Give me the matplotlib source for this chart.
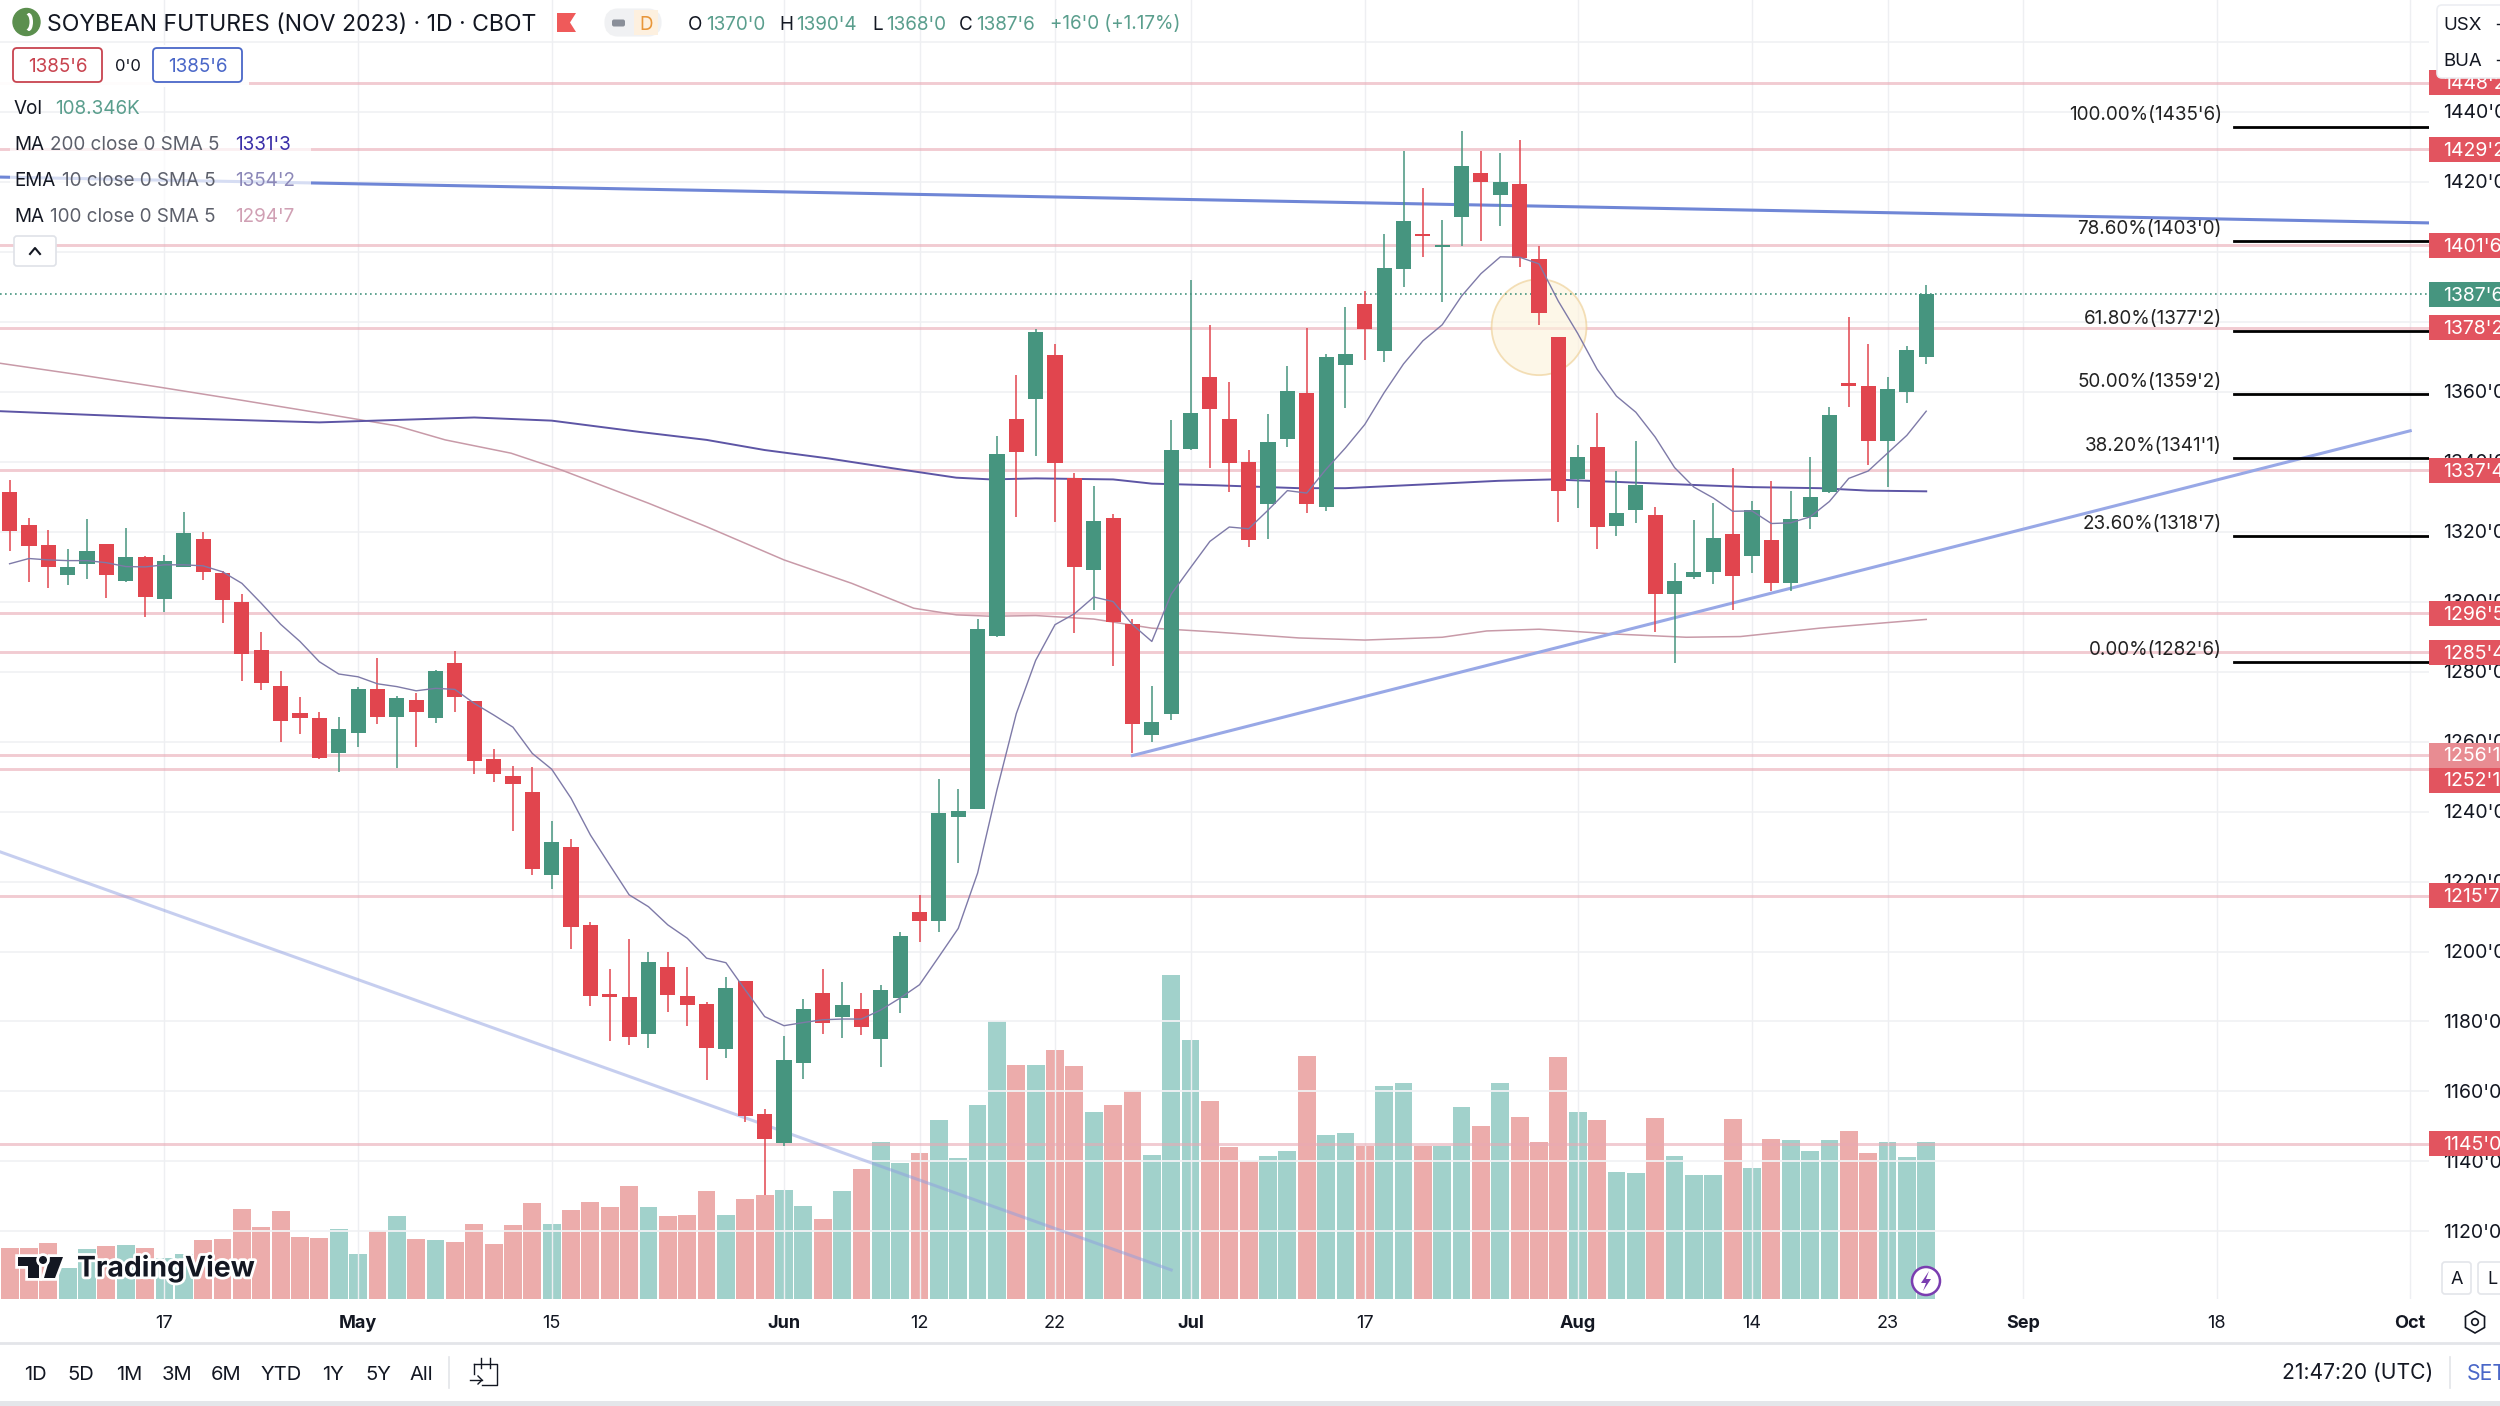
import matplotlib
matplotlib.use('Agg')
import matplotlib.pyplot as plt
import matplotlib.patheffects as pe
from matplotlib.patches import Rectangle, Ellipse, Circle, Polygon, FancyBboxPatch, RegularPolygon

plt.rcParams['font.family'] = ['Inter', 'DejaVu Sans']

# Значения: открытие, максимум, минимум, закрытие
opens = [1331.3, 1321.9, 1316.1, 1307.7, 1310.6, 1316.5, 1306.0, 1312.6, 1300.8, 1310.0,
         1318.0, 1308.3, 1300.0, 1286.1, 1276.0, 1268.1, 1266.8, 1256.8, 1262.5, 1274.9,
         1266.9, 1271.9, 1266.6, 1282.5, 1271.5, 1254.9, 1250.1, 1245.6, 1222.0, 1229.9,
         1207.5, 1187.8, 1187.1, 1176.4, 1195.7, 1187.3, 1185.0, 1172.1, 1191.6, 1153.5,
         1145.4, 1168.0, 1188.2, 1181.4, 1183.5, 1175.1, 1186.7, 1211.3, 1208.6, 1238.3,
         1240.8, 1290.3, 1352.3, 1358.0, 1370.5, 1335.4, 1308.9, 1324.0, 1293.6, 1262.0,
         1267.9, 1343.6, 1364.1, 1352.3, 1340.0, 1327.9, 1346.5, 1359.5, 1327.0, 1367.6,
         1385.0, 1371.5, 1395.1, 1405.0, 1401.3, 1410.0, 1422.4, 1416.2, 1419.3, 1397.9,
         1375.6, 1335.0, 1344.1, 1321.5, 1326.1, 1324.6, 1302.1, 1306.9, 1308.4, 1319.2,
         1313.0, 1317.6, 1305.3, 1324.1, 1331.3, 1362.4, 1361.7, 1346.0, 1359.9, 1370.0]
closes = [1320.1, 1316.0, 1309.8, 1309.9, 1314.4, 1307.7, 1312.6, 1301.4, 1311.5, 1319.5,
          1308.5, 1300.5, 1285.1, 1276.8, 1265.9, 1266.8, 1255.3, 1263.6, 1274.9, 1267.1,
          1272.4, 1268.4, 1280.1, 1272.6, 1254.5, 1250.6, 1247.9, 1223.7, 1231.2, 1207.0,
          1187.4, 1187.0, 1175.5, 1197.0, 1187.7, 1184.8, 1172.3, 1189.5, 1153.0, 1146.5,
          1169.1, 1183.7, 1179.7, 1184.7, 1178.4, 1189.0, 1204.3, 1208.8, 1239.5, 1240.1,
          1292.3, 1342.3, 1342.7, 1377.1, 1339.6, 1309.9, 1323.1, 1294.1, 1265.0, 1265.7,
          1343.2, 1353.8, 1355.0, 1339.6, 1317.7, 1345.7, 1360.1, 1327.8, 1369.8, 1370.8,
          1377.9, 1395.3, 1408.8, 1404.6, 1401.8, 1424.5, 1419.8, 1419.9, 1398.2, 1382.4,
          1331.6, 1341.3, 1321.2, 1325.2, 1333.2, 1302.1, 1306.0, 1308.5, 1318.2, 1307.4,
          1326.1, 1305.3, 1323.5, 1329.9, 1353.4, 1361.6, 1346.0, 1360.7, 1371.8, 1387.75]
highs = [1334.6, 1323.8, 1320.5, 1315.0, 1323.6, 1316.5, 1320.9, 1313.0, 1313.3, 1325.6,
         1319.8, 1308.8, 1302.1, 1291.4, 1280.2, 1272.7, 1268.4, 1266.9, 1275.7, 1284.0,
         1272.9, 1273.8, 1280.3, 1285.9, 1271.5, 1258.0, 1253.0, 1252.8, 1237.3, 1232.1,
         1208.5, 1194.9, 1203.6, 1199.9, 1199.9, 1195.6, 1185.7, 1192.6, 1191.6, 1154.9,
         1175.9, 1186.5, 1195.0, 1191.2, 1188.2, 1190.4, 1205.7, 1216.2, 1249.2, 1246.4,
         1295.0, 1347.3, 1364.7, 1378.0, 1373.5, 1336.6, 1333.0, 1324.9, 1295.0, 1275.9,
         1351.9, 1391.8, 1378.9, 1362.8, 1343.2, 1353.6, 1367.3, 1378.1, 1370.6, 1384.2,
         1388.7, 1404.9, 1428.7, 1418.3, 1408.9, 1434.4, 1428.8, 1428.1, 1432.0, 1401.6,
         1375.6, 1344.6, 1354.0, 1337.3, 1345.8, 1327.1, 1311.1, 1323.3, 1328.1, 1338.1,
         1328.6, 1334.5, 1331.5, 1341.2, 1355.5, 1381.2, 1373.5, 1364.3, 1373.0, 1390.5]
lows = [1314.5, 1305.7, 1304.0, 1304.8, 1306.4, 1300.9, 1305.7, 1295.7, 1297.0, 1309.8,
        1306.2, 1294.0, 1277.4, 1274.7, 1260.0, 1262.2, 1254.9, 1251.4, 1258.5, 1265.1,
        1252.4, 1258.4, 1265.4, 1268.3, 1250.6, 1248.5, 1234.5, 1221.9, 1217.8, 1200.6,
        1184.3, 1174.3, 1173.2, 1172.3, 1182.7, 1178.6, 1163.3, 1169.7, 1151.2, 1130.5,
        1144.4, 1163.7, 1176.3, 1175.4, 1176.0, 1167.1, 1182.3, 1202.6, 1205.7, 1225.4,
        1240.8, 1289.8, 1324.3, 1341.5, 1322.8, 1290.9, 1297.5, 1281.7, 1256.8, 1260.0,
        1266.2, 1343.4, 1338.3, 1331.2, 1315.7, 1317.9, 1344.2, 1325.2, 1325.8, 1355.2,
        1369.0, 1368.4, 1390.0, 1398.5, 1385.5, 1401.6, 1402.9, 1407.4, 1395.7, 1379.1,
        1322.8, 1326.6, 1315.1, 1318.7, 1322.5, 1291.2, 1282.4, 1306.4, 1305.1, 1297.5,
        1308.2, 1302.9, 1303.1, 1320.7, 1331.1, 1355.6, 1339.1, 1332.7, 1356.7, 1368.0]

# Объём в тысячах
volumes = [35.5, 35.0, 39.0, 21.2, 34.3, 36.6, 37.3, 35.3, 28.1, 30.9,
           40.6, 41.3, 62.2, 49.6, 60.9, 42.9, 42.2, 48.4, 31.1, 47.0,
           57.4, 41.7, 40.6, 39.6, 52.1, 38.0, 50.9, 66.2, 51.6, 61.5,
           67.1, 63.8, 78.1, 63.4, 57.2, 58.3, 74.7, 58.1, 69.2, 71.9,
           75.4, 64.5, 55.1, 74.7, 89.9, 108.6, 94.0, 100.7, 124.0, 97.7,
           133.9, 192.5, 162.0, 162.0, 172.4, 161.4, 129.3, 133.9, 143.8, 99.6,
           224.3, 179.1, 136.7, 105.3, 95.4, 98.7, 102.3, 168.3, 113.6, 114.8,
           106.0, 147.5, 149.4, 106.0, 106.0, 132.8, 119.4, 149.1, 125.6, 108.3,
           167.1, 129.3, 124.0, 87.8, 86.9, 125.2, 99.1, 85.7, 85.7, 124.5,
           90.6, 110.6, 110.0, 102.3, 110.0, 116.4, 100.7, 108.3, 98.2, 108.3]

ema10 = [1310.8, 1312.3, 1311.9, 1311.7, 1311.7, 1311.1, 1310.0, 1309.9, 1310.5, 1310.5,
         1310.2, 1308.5, 1305.2, 1299.5, 1293.5, 1288.6, 1282.8, 1279.3, 1278.5, 1276.5,
         1275.7, 1274.5, 1275.2, 1274.9, 1270.9, 1267.6, 1264.1, 1256.6, 1252.1, 1243.8,
         1233.3, 1224.7, 1216.2, 1212.8, 1207.6, 1203.8, 1198.1, 1196.8, 1189.0, 1181.4,
         1178.8, 1179.7, 1180.5, 1180.7, 1180.7, 1183.3, 1186.7, 1190.5, 1198.5, 1206.6,
         1222.4, 1246.2, 1268.0, 1283.2, 1293.4, 1296.5, 1301.3, 1300.0, 1293.4, 1288.6,
         1302.1, 1309.7, 1317.2, 1321.3, 1320.8, 1326.1, 1331.7, 1331.0, 1337.8, 1343.9,
         1350.6, 1359.7, 1367.9, 1374.5, 1379.1, 1387.3, 1393.7, 1398.5, 1398.4, 1396.5,
         1385.8, 1376.6, 1366.4, 1358.7, 1354.1, 1347.0, 1338.3, 1332.7, 1329.6, 1325.8,
         1325.9, 1322.3, 1322.5, 1324.2, 1328.6, 1335.2, 1337.3, 1342.4, 1347.5, 1354.4]

ma200_idx = [-0.5, 8, 16, 24, 28, 32.5, 36, 39, 42.3, 45.6, 48.9, 50.7, 53, 57, 59, 62.4,
             66.6, 69, 72.8, 76.9, 79.7, 83, 86.6, 90, 93.5, 96, 99]
ma200 = [1354.4, 1352.5, 1351.2, 1352.6, 1351.7, 1348.5, 1346.2, 1343.3, 1340.9, 1338.1, 1335.4,
         1334.9, 1335.2, 1334.9, 1333.7, 1333.2, 1332.4, 1332.4, 1333.4, 1334.5, 1334.9,
         1334.2, 1333.4, 1332.7, 1332.4, 1331.7, 1331.5]

ma100_idx = [-0.5, 3.6, 7.7, 11.9, 16, 20, 22.5, 25.9, 28.5, 33, 36, 40, 43.5, 46.7, 48.9, 50.7,
             53, 56, 59, 62, 66.6, 70, 74, 76.3, 79, 83, 86.6, 89.4, 93.5, 99]
ma100 = [1368.1, 1364.8, 1361.3, 1357.6, 1353.9, 1350.2, 1346.2, 1342.4, 1337.6, 1328.1, 1321.4,
         1311.9, 1305.2, 1298.1, 1296.2, 1295.8, 1296.0, 1295.0, 1292.4, 1291.4, 1289.6, 1289.0,
         1289.8, 1291.6, 1292.1, 1290.7, 1289.8, 1290.0, 1292.4, 1294.9]

# Горизонтальные уровни и их подписи
levels = [1448.25, 1429.25, 1401.75, 1378.25, 1337.5, 1296.625, 1285.5, 1256.125, 1252.125, 1215.875, 1145.0]
level_labels = ["1448'2", "1429'2", "1401'6", "1378'2", "1337'4", "1296'5", "1285'4", "1256'1", "1252'1", "1215'7", "1145'0"]

# Фибоначчи
fib_values = [1435.75, 1403.0, 1377.25, 1359.25, 1341.125, 1318.875, 1282.75]
fib_labels = ["100.00%(1435'6)", "78.60%(1403'0)", "61.80%(1377'2)", "50.00%(1359'2)",
              "38.20%(1341'1)", "23.60%(1318'7)", "0.00%(1282'6)"]

# Шкала цены и дат
price_ticks = [1120, 1140, 1160, 1180, 1200, 1220, 1240, 1260, 1280, 1300, 1320, 1340, 1360, 1380, 1400, 1420, 1440, 1460]
# 1380 и 1400 целиком закрыты плашками, поэтому подписей у них нет
price_labels = [1120, 1140, 1160, 1180, 1200, 1220, 1240, 1260, 1280, 1300, 1320, 1340, 1360, 1420, 1440]
date_idx = [8, 18, 28, 40, 47, 54, 61, 70, 81, 90, 97, 104, 114, 124]
date_labels = ['17', 'May', '15', 'Jun', '12', '22', 'Jul', '17', 'Aug', '14', '23', 'Sep', '18', 'Oct']
date_bold = ['May', 'Jun', 'Jul', 'Aug', 'Sep', 'Oct']

last_price = 1387.75

RED = '#e1454e'
GREEN = '#46957f'
TAG_RED = '#e2545f'
TEXT = '#131722'
GRAY = '#5d606b'
LEVEL = '#e9a9b4'
W, H = 2500, 1406
CHART_W, CHART_H = 2429, 1299

fig = plt.figure(figsize=(25, 14.06), dpi=100, facecolor='white')
pos = [0, (H - CHART_H) / H, CHART_W / W, CHART_H / H]
xlim = (-0.496, 124.97)
ylim = (1100.7, 1471.9)

# Объём и сетка лежат снизу
ax_vol = fig.add_axes(pos, zorder=1)
ax_vol.set_xlim(xlim)
ax_vol.set_ylim(0, 898.3)
ax_vol.axis('off')

ax = fig.add_axes(pos, zorder=2)
ax.patch.set_alpha(0)
ax.set_xlim(xlim)
ax.set_ylim(ylim)
ax.axis('off')

# Сетка
for p in price_ticks:
    ax.axhline(p, color='#f1f2f4', lw=1.3, zorder=0)
for i in date_idx:
    ax.axvline(i, color='#eeeff2', lw=1.0, zorder=0)

x = list(range(len(opens)))
up = [c >= o for o, c in zip(opens, closes)]

ax_vol.bar(x, volumes, width=0.92, color=['#a1d1cb' if u else '#ecacab' for u in up], zorder=2)

# Уровни
for lv in levels:
    ax.axhline(lv, color=LEVEL, lw=2.1, alpha=0.6, zorder=1)

# Средние
ax.plot(ma100_idx, ma100, color='#c89aa8', lw=1.1, zorder=2)
ax.plot(ma200_idx, ma200, color='#5d55a5', lw=1.4, zorder=2)

# Трендовые линии
ax.plot([-0.5, 125], [1421.3, 1408.2], color='#6f86d6', lw=2.2, zorder=2)
ax.plot([58, 124], [1256.0, 1348.8], color='#98a8e6', lw=2.2, zorder=2)
ax.plot([-0.5, 60], [1228.5, 1109.0], color='#8f9fe0', lw=2.2, alpha=0.5, zorder=2)

# Выделение в районе пробоя
ax.add_patch(Ellipse((79, 1378.4), 4.9, 27.4, facecolor='#fdf3dd', edgecolor='#eecf94',
                     lw=1.3, alpha=0.65, zorder=2))

# Свечи
ax.vlines(x, lows, highs, colors=[GREEN if u else RED for u in up], lw=1.1, zorder=3)
ax.bar(x, [abs(c - o) for o, c in zip(opens, closes)], bottom=[min(o, c) for o, c in zip(opens, closes)],
       width=0.78, color=[GREEN if u else RED for u in up], zorder=4)

ax.plot(x, ema10, color='#7e7aa8', lw=1.0, zorder=5)

# Последняя цена
ax.axhline(last_price, color=GREEN, lw=1.2, ls=(0, (1, 2)), zorder=2)

# Фибоначчи
for val, lab in zip(fib_values, fib_labels):
    ax.plot([114.9, 125], [val, val], color='black', lw=2.0, zorder=6)
    ax.annotate(lab, (114.27, val), xytext=(0, 12), textcoords='offset pixels',
                ha='right', va='center', fontsize=13.6, color='#222222', zorder=6)

# Шкала цены справа
ax_r = fig.add_axes([CHART_W / W, (H - CHART_H) / H, (W - CHART_W) / W, CHART_H / H], zorder=3)
ax_r.set_xlim(0, W - CHART_W)
ax_r.set_ylim(ylim)
ax_r.axis('off')
for p in price_labels:
    ax_r.text(14, p - 0.5, "%d'0" % p, ha='left', va='center', fontsize=14, color=TEXT, zorder=1)

tag_h = 25 / 3.5
for lv, lab in zip(levels, level_labels):
    # Подпись 1252'1 сдвинута вниз, чтобы не наезжать на соседнюю
    yc = 1249.0 if lab == "1252'1" else lv
    face = '#e88c92' if lab == "1256'1" else TAG_RED
    ax_r.add_patch(Rectangle((0, yc - tag_h / 2), 80, tag_h, color=face, lw=0, zorder=2))
    ax_r.text(14, yc - 0.4, lab, ha='left', va='center', fontsize=14, color='white', zorder=3)
ax_r.add_patch(Rectangle((0, last_price - tag_h / 2), 80, tag_h, color=GREEN, lw=0, zorder=2))
ax_r.text(14, last_price - 0.4, "1387'6", ha='left', va='center', fontsize=14, color='white', zorder=3)

# Всё остальное в пикселях картинки
ui = fig.add_axes([0, 0, 1, 1], zorder=4)
ui.patch.set_alpha(0)
ui.set_xlim(0, W)
ui.set_ylim(H, 0)
ui.axis('off')


def put(px, py, s, size=13.6, color=TEXT, ha='left', weight='normal'):
    return ui.text(px, py + 1.5, s, fontsize=size, color=color, ha=ha, va='center', fontweight=weight)


# Подложка под легендой
ui.add_patch(Rectangle((0, 45), 249, 42, color='white', lw=0, alpha=0.95))
ui.add_patch(Rectangle((10, 132), 301, 95, color='white', lw=0, alpha=0.72))

# Заголовок
ui.add_patch(Circle((26.5, 22), 13.5, color='#5b8f4e'))
ui.add_patch(Ellipse((29, 22), 8, 18, facecolor='white', edgecolor='none'))
ui.add_patch(Ellipse((26, 22), 7, 15, facecolor='#5b8f4e', edgecolor='none'))
put(47, 23, 'SOYBEAN FUTURES (NOV 2023) · 1D · CBOT', size=16.6)
ui.add_patch(Polygon([(557, 13), (576, 13), (570, 22.5), (576, 32), (557, 32)], color='#ef5a5a', lw=0))
ui.add_patch(FancyBboxPatch((610, 14), 46, 17, boxstyle='round,pad=0,rounding_size=8', mutation_aspect=1,
                            facecolor='#f0f1f3', edgecolor='#f0f1f3', lw=8))
ui.add_patch(Rectangle((634, 10), 24, 25, color='#fdf0df', lw=0))
ui.add_patch(FancyBboxPatch((612, 19.5), 13, 7, boxstyle='round,pad=0,rounding_size=2',
                            facecolor='#8a8f99', edgecolor='none'))
put(646, 23, 'D', color='#e8963a', ha='center')

teal = '#5a9e8d'
for px, s, col in [(688, 'O', TEXT), (706, "1370'0", teal), (779, 'H', TEXT), (796, "1390'4", teal),
                   (872, 'L', TEXT), (886, "1368'0", teal), (959, 'C', TEXT), (976, "1387'6", teal),
                   (1050, "+16'0 (+1.17%)", teal)]:
    put(px, 23, s, color=col)

# Кнопки торговли
ui.add_patch(FancyBboxPatch((13, 48), 89, 34, boxstyle='round,pad=0,rounding_size=4',
                            facecolor='white', edgecolor='#c8434f', lw=1.3))
put(57.5, 65, "1385'6", color='#c8434f', ha='center')
put(128, 65, "0'0", color=TEXT, ha='center', size=12)
ui.add_patch(FancyBboxPatch((153, 48), 89, 34, boxstyle='round,pad=0,rounding_size=4',
                            facecolor='white', edgecolor='#4a67c8', lw=1.3))
put(197.5, 65, "1385'6", color='#4a67c8', ha='center')

# Легенда индикаторов
put(14, 107, 'Vol')
put(55, 107, '108.346K', color=teal)
for py, head, rest, rx, val, col in [(144, 'MA', '200 close 0 SMA 5', 50, "1331'3", '#3a2fa8'),
                                     (179, 'EMA', '10 close 0 SMA 5', 62, "1354'2", '#8c88b8'),
                                     (215, 'MA', '100 close 0 SMA 5', 50, "1294'7", '#d0a0b4')]:
    put(14, py, head)
    put(rx, py, rest, color=GRAY)
    put(235, py, val, color=col)
ui.add_patch(FancyBboxPatch((14, 236), 42, 30, boxstyle='round,pad=0,rounding_size=3',
                            facecolor='white', edgecolor='#dfe2e8', lw=1.2))
ui.plot([30, 35, 40], [254, 248, 254], color=TEXT, lw=1.5)

# Блок USX / BUA
ui.add_patch(FancyBboxPatch((2437, 5), 90, 73, boxstyle='round,pad=0,rounding_size=5',
                            facecolor='white', edgecolor='#eceef2', lw=1.2))
put(2443, 24, 'USX', size=13.4)
put(2443, 60, 'BUA', size=13.4)
ui.plot([2497, 2500], [24, 24], color=TEXT, lw=1)
ui.plot([2497, 2500], [60, 60], color=TEXT, lw=1)

# Логотип TradingView
halo = [pe.withStroke(linewidth=4, foreground='white')]
logo_parts = [Polygon([(18, 1257), (39, 1257), (39, 1278), (28, 1278), (28, 1266), (18, 1266)], color=TEXT, lw=0),
              Polygon([(50, 1257), (63, 1257), (55, 1278), (44, 1278)], color=TEXT, lw=0),
              Circle((43, 1260), 4, color=TEXT, lw=0)]
for part in logo_parts:
    part.set_path_effects(halo)
    ui.add_patch(part)
tv = put(77, 1267, 'TradingView', size=20.4, weight='bold')
tv.set_path_effects(halo)

# Значок с молнией
ui.add_patch(Circle((1926, 1281), 14, facecolor='white', edgecolor='#7a3db0', lw=1.8))
ui.add_patch(Polygon([(1929, 1271), (1921, 1283), (1926, 1283), (1923, 1291), (1931, 1279), (1926, 1279)],
                     color='#7a3db0', lw=0))

# Подписи дат
for i, lab in zip(date_idx, date_labels):
    px = 9.6 + 19.36 * i
    put(px, 1322, lab, ha='center', size=13, weight='bold' if lab in date_bold else 'normal')

# Кнопки A и L, настройки
for bx, bw in [(2442, 29), (2478, 30)]:
    ui.add_patch(FancyBboxPatch((bx, 1262), bw, 32, boxstyle='round,pad=0,rounding_size=3',
                                facecolor='white', edgecolor='#e3e5ea', lw=1.2))
put(2456.5, 1278, 'A', ha='center', size=13)
put(2487, 1278, 'L', ha='left', size=13)
ui.add_patch(RegularPolygon((2475, 1322), 6, radius=11, orientation=0, fill=False, edgecolor=TEXT, lw=1.2))
ui.add_patch(Circle((2475, 1322), 3.3, fill=False, edgecolor=TEXT, lw=1.2))

# Нижняя панель
ui.plot([0, W], [1343, 1343], color='#e3e5e9', lw=2)
ui.add_patch(Rectangle((0, 1401), W, 5, color='#e4e6ea', lw=0))
for px, s in [(35, '1D'), (81, '5D'), (129, '1M'), (177, '3M'), (226, '6M'), (281, 'YTD'),
              (333, '1Y'), (378, '5Y'), (421, 'All')]:
    put(px, 1373, s, ha='center', size=14.5)
ui.plot([449, 449], [1357, 1388], color='#e3e5e9', lw=1.2)
ui.plot([2450, 2450], [1357, 1388], color='#e3e5e9', lw=1.2)

# Значок календаря
ui.plot([474, 497, 497, 482], [1364, 1364, 1385, 1385], color=TEXT, lw=1.0)
ui.plot([474, 474], [1364, 1374], color=TEXT, lw=1.0)
ui.plot([481, 481], [1358, 1368], color=TEXT, lw=1.0)
ui.plot([490, 490], [1358, 1368], color=TEXT, lw=1.0)
ui.plot([470, 482], [1380, 1380], color=TEXT, lw=1.0)
ui.plot([478, 482, 478], [1376, 1380, 1384], color=TEXT, lw=1.0)

put(2282, 1372, '21:47:20 (UTC)', size=15.2)
put(2467, 1372, 'SET', size=15.2, color='#4a67c8')

fig.savefig('out.png', dpi=100)
